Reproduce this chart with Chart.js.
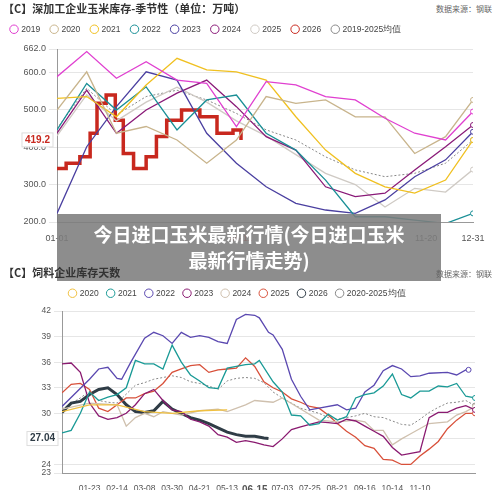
<!DOCTYPE html><html><head><meta charset="utf-8">
<script src="https://cdn.jsdelivr.net/npm/chart.js@4"></script>
<style>
body{margin:0;width:500px;height:496px;background:#fff;position:relative;overflow:hidden;font-family:"Noto Sans CJK SC",sans-serif}
.t{position:absolute;left:3px;font-size:11px;font-weight:bold;color:#333;z-index:5}
.s{position:absolute;right:8px;font-size:8px;color:#666}
canvas{position:absolute;left:0}
#ov{position:absolute;left:57px;top:214px;width:384px;height:67px;background:rgba(125,125,125,0.88);color:#fff;font-weight:bold;font-size:19px;text-align:center;line-height:26px;padding-top:7px;box-sizing:border-box}
</style></head><body>
<div class="t" style="top:0">【C】深加工企业玉米库存-季节性（单位：万吨）</div><div class="s" style="top:3px">数据来源：钢联</div>
<div style="position:absolute;top:14px;left:0;width:500px;height:236px"><canvas id="c1"></canvas></div>
<div style="position:absolute;top:280px;left:0;width:500px;height:210px"><canvas id="c2"></canvas></div>
<div id="ov">今日进口玉米最新行情(今日进口玉米<br>最新行情走势)</div>
<div class="t" style="top:264px">【C】饲料企业库存天数</div><div class="s" style="top:268px">数据来源：钢联</div>
<script>
// ---- top chart data (day of year, 万吨)
const topDays=[1,27,53,79,106,132,158,184,210,236,262,288,314,341,365];
const s2019=[588,655,584,628,579,570,455,575,566,535,526,477,437,419,495];
const s2020=[499,601,437,455,419,357,419,535,517,526,481,481,383,428,526];
const s2021=[530,535,481,566,637,606,601,579,481,392,330,294,277,312,419];
const s2022=[446,570,499,561,446,526,539,437,392,312,214,214,205,196,223];
const s2023=[223,401,508,601,579,437,357,294,250,232,223,259,321,366,441];
const s2024=[437,552,437,499,544,579,508,428,392,294,268,277,339,401,459];
const s2025=[430,540,470,520,560,520,470,430,380,330,300,240,290,280,340];
const sAvg=[450,557,486,535,552,526,490,446,419,374,339,321,330,357,419];
const days2026=[1,9,21,30,36,44,52,59,68,79,88,97,110,126,141,155,162];
const s2026=[343,357,374,437,517,539,472,383,343,374,428,472,499,481,437,446,419.2];
const topTicks=[200,300,400,500,600,662];
const topXTicks={1:'01-01',162:'06-11',324:'11-20',365:'12-31'};
// ---- bottom chart data (week index, days)
const botXLabels={3:'01-23',6:'02-14',9:'03-08',12:'03-30',15:'04-21',18:'05-13',21:'06-15',24:'07-03',27:'07-25',30:'08-21',33:'09-16',36:'10-14',39:'11-10'};
const botTicks=[23,24,27.04,30,33,36,39,42];
const b2020=[[0,30.2],[3,31.0],[6,31.0],[9,30.2],[12,30.0],[15,30.3],[18,30.4]];
const b2021=[[0,27.7],[1,28.0],[2,30.0],[3,32.5],[4,31.5],[5,31.9],[6,32.2],[7,33.0],[8,36.2],[9,35.8],[10,35.8],[11,35.2],[12,38.0],[13,36.0],[14,34.5],[15,33.8],[16,33.0],[17,32.9],[18,35.3],[19,35.5],[20,35.7],[21,35.8],[21.5,36.2],[23,33.7],[24,32.5],[25,29.8],[26,29.7],[27,28.6],[28,28.8],[29,29.9],[30,29.2],[31,29.6],[32,31.8],[33,32.2],[34,32.4],[35,33.2],[36,34.6],[37,32.2],[38,31.8],[39,32.6],[40,32.6],[41,33.2],[42,33.1],[43,33.5],[44,32.0],[45,31.8]];
const b2022=[[0,30.8],[3,34.0],[4,35.2],[5,35.4],[6,34.1],[6.5,34.0],[7.5,36.0],[9,38.8],[10,39.5],[11,39.1],[12,38.2],[13,39.5],[14,38.9],[15,39.1],[16,38.9],[17,38.4],[18,38.2],[19,41.0],[20,41.6],[21,41.5],[21.5,41.2],[22.5,39.5],[23,39.2],[24,37.5],[25,34.0],[26,32.0],[27,30.4],[28,30.6],[30,31.0],[31,30.4],[32,30.6],[33,32.5],[34,33.3],[35,35.0],[36,35.6],[37,35.2],[38,34.3],[39,34.4],[40,34.7],[42,34.8],[43,34.5],[44,35.1],[44.3,35.1]];
const b2023=[[0,35.8],[1,35.9],[2,34.8],[3,31.2],[4,29.7],[5,29.3],[6,29.5],[7,30.0],[8,31.0],[9,32.3],[10,32.8],[11,31.5],[12,30.4],[13,30.2],[14,29.3],[15,29.0],[16,28.5],[17,27.5],[18,27.2],[19,26.6],[20,26.8],[21,26.6],[22,26.3],[23,26.1],[24,27.0],[25,28.1],[26,28.4],[27,28.7],[28,29.0],[29,28.9],[30,28.8],[31,29.3],[32,29.1],[33,28.5],[34,27.9],[35,27.3],[36,26.0],[37,25.1],[38,25.3],[39,25.5],[40,29.5],[41,30.1],[42,30.1],[43,30.6],[44,30.9],[45,30.4]];
const b2024=[[0,30.5],[3,31.2],[6,31.0],[7,28.5],[8,29.5],[9,30.0],[10,29.6],[11,30.2],[13,29.8],[15,30.3],[17,30.5],[18,30.2],[20,31.0],[21,31.5],[23,31.3],[24,31.8],[26,30.5],[28,29.2],[30,29.0],[32,29.2],[33,29.0],[34,28.0],[35,28.0],[36,26.3],[37,27.0],[38,27.6],[40,28.8],[42,29.0],[43,29.8],[44,30.2],[45,30.8]];
const b2025=[[0,32.4],[1,33.4],[2,33.5],[3,32.8],[4,30.6],[5,30.2],[6,31.0],[7,31.8],[8,31.8],[9,32.3],[10,32.6],[11,33.5],[12,34.8],[13,35.2],[14,35.6],[15,35.7],[16,34.8],[17,35.1],[18,35.2],[19,35.3],[20,36.5],[21,35.5],[22,33.7],[23,33.0],[24,32.5],[25,31.7],[26,31.3],[27,30.8],[28,30.6],[29,29.8],[30,28.8],[31,27.9],[32,27.2],[33,26.2],[34,25.9],[35,24.6],[36,24.5],[37,24.0],[38,24.0],[39,25.0],[40,25.8],[41,26.7],[42,28.2],[43,29.2],[44,30.0],[45,30.0]];
const b2026=[[0,30.1],[1,31.2],[2,31.4],[3,32.2],[4,32.8],[5,33.0],[6,32.2],[7,31.0],[8,30.2],[9,30.1],[10,30.3],[11,31.4],[12,30.5],[13,30.0],[14,29.5],[15,29.2],[16,28.8],[17,28.3],[18,27.8],[19,27.5],[20,27.3],[21,27.3],[22,27.1],[22.5,27.04]];
const bAvg=[[0,30.5],[2,31.8],[3,32.6],[4,31.5],[5,31.3],[6,31.2],[8,33.3],[9,33.6],[10,34.0],[11,34.2],[12,34.4],[13,34.2],[14,33.7],[15,33.5],[16,33.2],[17,32.8],[18,33.8],[19,34.1],[20,34.2],[21,34.1],[22,33.6],[23,32.5],[24,31.8],[25,31.2],[26,30.6],[27,30.3],[28,30.0],[29,29.5],[30,29.3],[31,29.5],[32,29.7],[33,30.0],[34,29.6],[35,29.5],[36,29.1],[37,28.7],[38,28.6],[39,29.3],[40,30.1],[41,30.7],[42,31.2],[43,31.3],[44,31.5],[45,30.9]];

const zip=(xs,ys)=>xs.map((x,i)=>({x,y:ys[i]}));
const pr=(ctx)=>ctx.dataIndex===ctx.dataset.data.length-1?2.5:0;
function ds(label,data,color,o={}){return Object.assign({label,data,borderColor:color,backgroundColor:'#fff',borderWidth:1.3,pointRadius:pr,pointBorderWidth:1,pointBorderColor:color,tension:0},o);}
function legendFix(h){return {id:'lf',beforeInit(c){const f=c.legend.fit;c.legend.fit=function(){f.call(this);this.height=h;};}};}
function boxTick(val,txt,color){return {id:'bt',afterDraw(c){const y=c.scales.y.getPixelForValue(val);const ctx=c.ctx;ctx.save();ctx.font='bold 10px "Liberation Sans"';const w=ctx.measureText(txt).width+6;const x=c.scales.y.right-4-w;ctx.fillStyle='#fff';ctx.strokeStyle='#ddd';ctx.fillRect(x,y-7,w,14);ctx.strokeRect(x,y-7,w,14);ctx.fillStyle=color;ctx.textBaseline='middle';ctx.fillText(txt,x+3,y);ctx.restore();}};}
const legendOpts={position:'top',align:'start',labels:{usePointStyle:true,pointStyle:'circle',boxWidth:6,boxHeight:6,padding:9,font:{size:8.5,family:'Liberation Sans'},color:'#444'}};
Chart.defaults.animation=false;

new Chart(document.getElementById('c1'),{type:'line',data:{datasets:[
ds('2019',zip(topDays,s2019),'#e040d0'),
ds('2020',zip(topDays,s2020),'#c8b48c'),
ds('2021',zip(topDays,s2021),'#f0c020'),
ds('2022',zip(topDays,s2022),'#1a8f96'),
ds('2023',zip(topDays,s2023),'#4a3fa0'),
ds('2024',zip(topDays,s2024),'#8a1a78'),
ds('2025',zip(topDays,s2025),'#cfcac4'),
ds('2026',zip(days2026,s2026),'#c8281e',{stepped:true,borderWidth:3.5,pointRadius:0}),
ds('2019-2025均值',zip(topDays,sAvg),'#888',{borderDash:[2,2],borderWidth:1})
]},options:{responsive:true,maintainAspectRatio:false,layout:{padding:{left:0,right:27,top:0,bottom:0}},
plugins:{legend:Object.assign({},legendOpts,{labels:Object.assign({},legendOpts.labels,{padding:11})}),tooltip:{enabled:false}},
scales:{x:{type:'linear',min:1,max:365,afterFit:s=>{s.height=28},afterBuildTicks:s=>{s.ticks=Object.keys(topXTicks).map(v=>({value:+v}))},
ticks:{autoSkip:false,maxRotation:0,callback:v=>topXTicks[v]||'',color:c=>c.tick&&c.tick.value===162?'#c8281e':'#555',font:{size:9,family:'Liberation Sans'}},grid:{display:false},border:{color:'#999'}},
y:{min:200,max:662,afterFit:s=>{s.width=57},afterBuildTicks:s=>{s.ticks=topTicks.map(v=>({value:v}))},ticks:{callback:v=>v.toFixed(1),color:'#555',font:{size:9,family:'Liberation Sans'}},grid:{color:'#e6e6e6'},border:{color:'#999'}}}},
plugins:[legendFix(35),boxTick(419.2,'419.2','#c8281e')]});

new Chart(document.getElementById('c2'),{type:'line',data:{datasets:[
ds('2020',b2020,'#f0c040',{pointRadius:0}),
ds('2021',b2021,'#1a9a96'),
ds('2022',b2022,'#5a48b0'),
ds('2023',b2023,'#8a1a70'),
ds('2024',b2024,'#cfc0ae'),
ds('2025',b2025,'#d8503a'),
ds('2026',b2026,'#2f3c46',{borderWidth:3,pointRadius:0}),
ds('2020-2025均值',bAvg,'#888',{borderDash:[2,2],borderWidth:1})
]},options:{responsive:true,maintainAspectRatio:false,layout:{padding:{left:0,right:25,top:0,bottom:0}},
plugins:{legend:Object.assign({},legendOpts,{align:'center'}),tooltip:{enabled:false}},
scales:{x:{type:'linear',min:0,max:45,afterFit:s=>{s.height=17},afterBuildTicks:s=>{s.ticks=Object.keys(botXLabels).map(v=>({value:+v}))},
ticks:{autoSkip:false,maxRotation:0,callback:v=>botXLabels[v]||'',color:'#555',font:c=>({size:c.tick&&c.tick.value===21?10:8.5,weight:c.tick&&c.tick.value===21?'bold':'normal',family:'Liberation Sans'})},grid:{display:false},border:{color:'#999'}},
y:{min:23,max:42,afterFit:s=>{s.width=62},afterBuildTicks:s=>{s.ticks=botTicks.map(v=>({value:v}))},ticks:{callback:v=>v===27.04?'':String(v),color:'#555',font:{size:8.5,family:'Liberation Sans'}},grid:{color:'#e6e6e6'},border:{color:'#999'}}}},
plugins:[legendFix(31),boxTick(27.04,'27.04','#2f3c46')]});
</script></body></html>
